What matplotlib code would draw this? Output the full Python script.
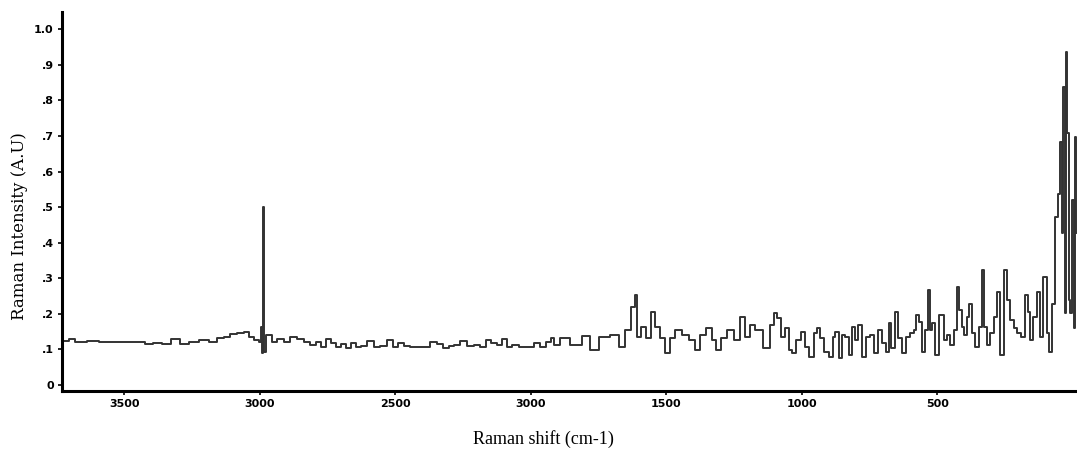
import matplotlib
matplotlib.use("Agg")
import matplotlib.pyplot as plt
import numpy as np

# Raman shift (cm-1) and intensity (A.U) in pieces
wn_high = [3736, 3712, 3700, 3663, 3613, 3577, 3527, 3478, 3441, 3410, 3380, 3343,
           3312, 3281, 3244, 3208, 3171, 3146, 3121, 3097, 3072, 3048, 3029, 3011,
           2998, 2994, 2990, 2986, 2981, 2974, 2964, 2949, 2925, 2900, 2875]
int_high = [0.124, 0.124, 0.128, 0.122, 0.125, 0.122, 0.122, 0.122, 0.122, 0.115, 0.119, 0.115,
            0.128, 0.115, 0.122, 0.126, 0.122, 0.131, 0.136, 0.143, 0.147, 0.150, 0.136, 0.126,
            0.122, 0.162, 0.091, 0.500, 0.094, 0.140, 0.140, 0.122, 0.128, 0.122, 0.134]

wn_mid = [2851, 2826, 2802, 2783, 2765, 2746, 2728, 2710, 2691, 2673, 2654, 2636, 2617, 2593,
          2568, 2544, 2519, 2500, 2482, 2457, 2433, 2408, 2384, 2359, 2334, 2316, 2291, 2273,
          2248, 2224, 2199, 2175, 2156, 2138, 2113, 2098, 2082, 2058, 2033, 2002, 1978, 1953,
          1935, 1916]
int_mid = [0.128, 0.122, 0.112, 0.122, 0.108, 0.128, 0.117, 0.108, 0.115, 0.103, 0.119, 0.108,
           0.110, 0.125, 0.108, 0.110, 0.126, 0.108, 0.117, 0.110, 0.106, 0.108, 0.106, 0.122,
           0.115, 0.103, 0.110, 0.112, 0.125, 0.110, 0.112, 0.108, 0.126, 0.117, 0.112, 0.128,
           0.108, 0.112, 0.106, 0.108, 0.117, 0.106, 0.122, 0.131]

wn_fp = [1910, 1873, 1836, 1788, 1773, 1725, 1688, 1663, 1640, 1622, 1611, 1603, 1585, 1567,
         1548, 1533, 1515, 1497, 1478, 1456, 1430, 1404, 1386, 1367, 1338, 1327, 1308, 1290,
         1264, 1238, 1220, 1201, 1183, 1161, 1127, 1109, 1098, 1087, 1069, 1055, 1043, 1031,
         1013]
int_fp = [0.112, 0.131, 0.112, 0.138, 0.098, 0.136, 0.140, 0.108, 0.154, 0.220, 0.253, 0.136,
          0.164, 0.131, 0.206, 0.164, 0.131, 0.089, 0.131, 0.154, 0.140, 0.126, 0.098, 0.140,
          0.159, 0.126, 0.098, 0.131, 0.154, 0.126, 0.192, 0.136, 0.169, 0.154, 0.103, 0.169,
          0.201, 0.187, 0.136, 0.159, 0.098, 0.089, 0.126]

wn_low = [994, 982, 963, 951, 938, 926, 908, 889, 883, 871, 858, 846, 834, 821, 812, 799, 787,
          772, 754, 742, 726, 711, 698, 684, 676, 664, 649, 639, 625, 610, 594, 582, 573, 563,
          551, 541, 531, 524, 514, 502, 483, 471, 459, 446, 434, 422, 416, 406, 397, 385]
int_low = [0.150, 0.108, 0.080, 0.145, 0.159, 0.131, 0.094, 0.080, 0.136, 0.150, 0.075, 0.140,
           0.136, 0.084, 0.164, 0.126, 0.169, 0.080, 0.136, 0.140, 0.089, 0.154, 0.117, 0.094,
           0.175, 0.103, 0.206, 0.131, 0.089, 0.136, 0.145, 0.154, 0.197, 0.178, 0.094, 0.154,
           0.267, 0.154, 0.173, 0.084, 0.197, 0.126, 0.140, 0.112, 0.154, 0.276, 0.211, 0.164,
           0.140, 0.192]

wn_edge = [379, 366, 354, 342, 332, 323, 311, 299, 286, 274, 262, 250, 237, 225, 213, 200, 182,
           172, 163, 155, 139, 126, 118, 102, 93, 81, 71, 59, 50, 43, 39, 33, 28, 24, 19, 12, 6,
           0, -5, -9, -13]
int_edge = [0.229, 0.145, 0.108, 0.164, 0.323, 0.164, 0.112, 0.145, 0.192, 0.262, 0.084, 0.323,
            0.239, 0.183, 0.159, 0.145, 0.136, 0.253, 0.206, 0.126, 0.192, 0.262, 0.136, 0.304,
            0.145, 0.094, 0.229, 0.473, 0.538, 0.683, 0.426, 0.838, 0.201, 0.936, 0.707, 0.239,
            0.201, 0.520, 0.160, 0.697, 0.426]

x_ticks = [3500, 3000, 2500, 2000, 1500, 1000, 500]
x_tick_labels = ["3500", "3000", "2500", "3000", "1500", "1000", "500"]
y_ticks = [0, 0.1, 0.2, 0.3, 0.4, 0.5, 0.6, 0.7, 0.8, 0.9, 1.0]
y_tick_labels = ["0", ".1", ".2", ".3", ".4", ".5", ".6", ".7", ".8", ".9", "1.0"]

wn = np.concatenate([wn_high, wn_mid, wn_fp, wn_low, wn_edge])
inten = np.concatenate([int_high, int_mid, int_fp, int_low, int_edge])

fig = plt.figure(figsize=(10.77, 4.5), dpi=100)
ax = fig.add_axes([0.0576, 0.131, 0.9424, 0.842])

ax.plot(wn, inten, drawstyle="steps-mid", color="#333333", lw=1.4)

ax.set_xlim(3730, -15)
ax.set_ylim(-0.017, 1.048)

ax.set_xticks(x_ticks)
ax.set_xticklabels(x_tick_labels)
ax.set_yticks(y_ticks)
ax.set_yticklabels(y_tick_labels)
for lbl in ax.get_xticklabels() + ax.get_yticklabels():
    lbl.set_fontfamily("DejaVu Sans")
    lbl.set_fontweight("bold")
    lbl.set_fontsize(8)

ax.tick_params(axis="both", direction="out", length=3, width=1.2, color="black", pad=3)

for side in ("top", "right"):
    ax.spines[side].set_visible(False)
for side in ("left", "bottom"):
    ax.spines[side].set_linewidth(2.2)
    ax.spines[side].set_color("black")

# axis titles placed in figure pixels to match the reference
fig.text(543 / 1077, 1 - 439 / 450, "Raman shift (cm-1)", ha="center", va="center",
         fontfamily="Liberation Serif", fontsize=13)
fig.text(20 / 1077, 1 - 226 / 450, "Raman Intensity (A.U)", ha="center", va="center",
         rotation=90, fontfamily="DejaVu Serif", fontsize=12)

fig.savefig("out.png", dpi=100)
